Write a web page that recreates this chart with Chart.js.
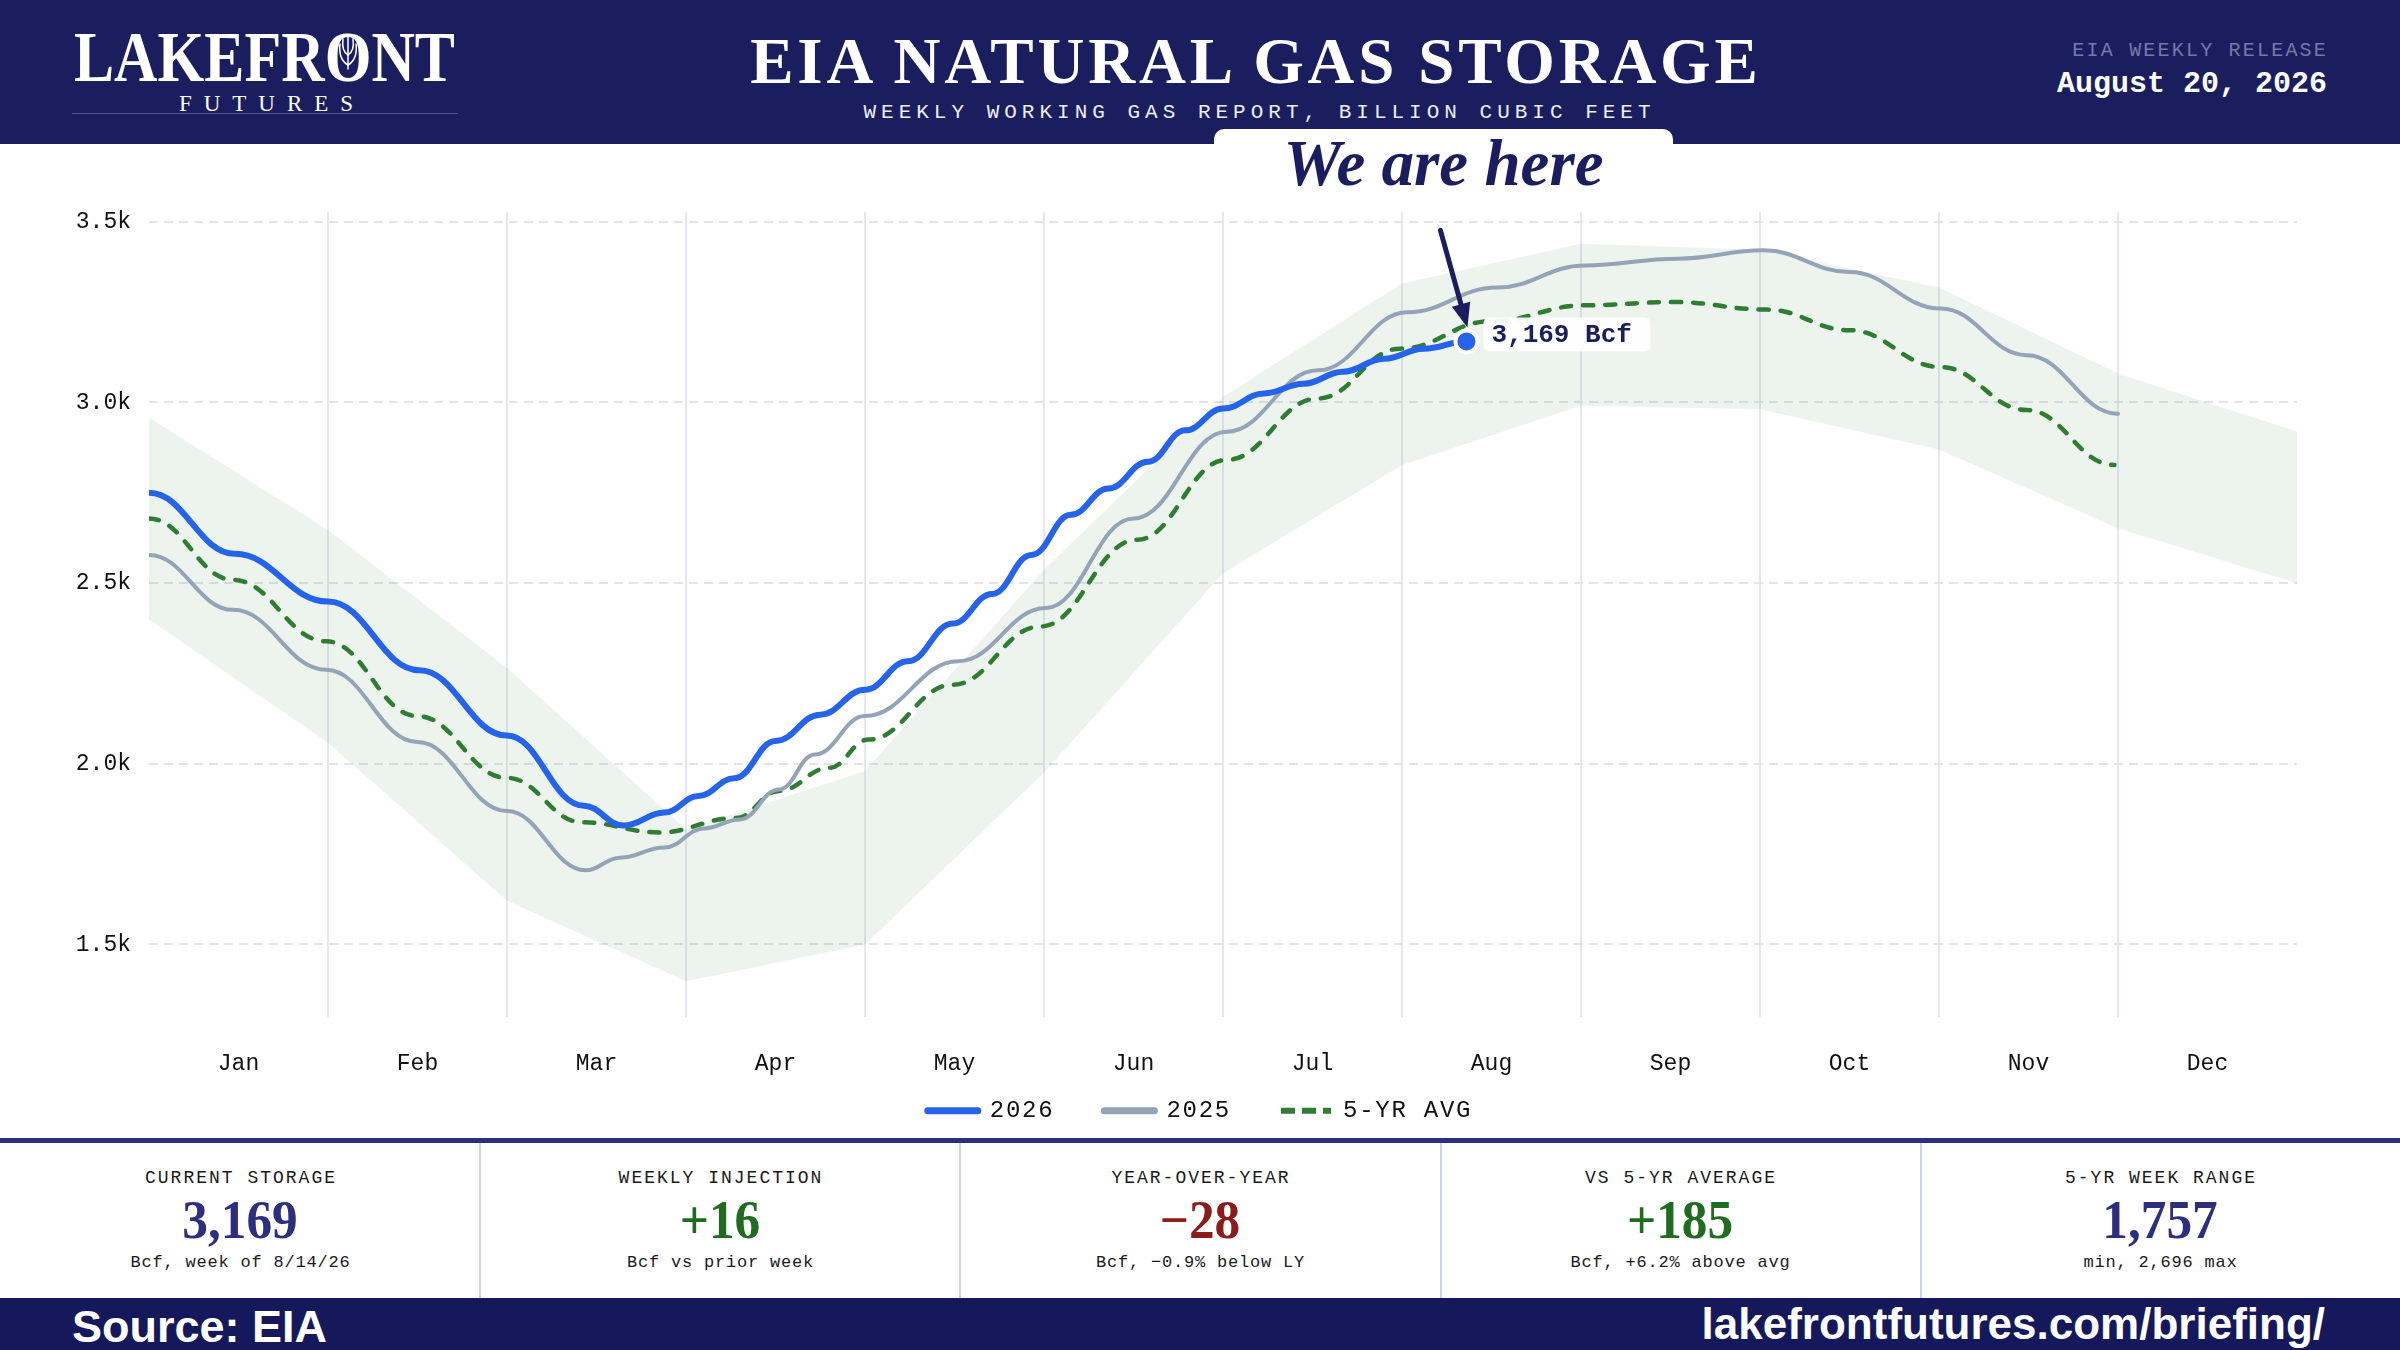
<!DOCTYPE html>
<html>
<head>
<meta charset="utf-8">
<script src="https://cdn.jsdelivr.net/npm/chart.js@4.4.1/dist/chart.umd.min.js"></script>
<style>
html,body{margin:0;padding:0;width:2400px;height:1350px;overflow:hidden;background:#fff;}
body{position:relative;font-family:"Liberation Mono",monospace;}
.abs{position:absolute;line-height:1;white-space:nowrap;}
#hdr{position:absolute;left:0;top:0;width:2400px;height:144px;background:#1b1e5e;}
#tab{position:absolute;left:1214px;top:129px;width:459px;height:72px;background:#fff;border-radius:10px 10px 0 0;z-index:5;}
#here{position:absolute;left:1214px;width:459px;top:130.6px;text-align:center;font:italic bold 65px "Liberation Serif",serif;color:#1b1e5e;line-height:1;z-index:6;}
#chartBox{position:absolute;left:0;top:144px;width:2400px;height:994px;}
#summary{position:absolute;left:0;top:1138px;width:2400px;height:160px;border-top:5.3px solid #2b2e7c;box-sizing:border-box;}
.div{position:absolute;top:1143px;width:1.5px;height:155px;background:#cfd2ec;}
.lab{position:absolute;width:480px;text-align:center;font-size:18px;letter-spacing:2px;padding-left:2px;box-sizing:border-box;color:#1a1a1a;top:1168.9px;line-height:1;white-space:nowrap;}
.val{position:absolute;width:480px;text-align:center;font:bold 54px "Liberation Serif",serif;top:1193.1px;line-height:1;transform:scaleX(0.95);white-space:nowrap;}
.sub{position:absolute;width:480px;text-align:center;font-size:17px;letter-spacing:0.8px;padding-left:0.8px;box-sizing:border-box;color:#1a1a1a;top:1254.3px;line-height:1;white-space:nowrap;}
#foot{position:absolute;left:0;top:1298px;width:2400px;height:52px;background:#15185a;}
</style>
</head>
<body>
<div id="hdr"></div>
<div id="logo" class="abs" style="left:73.5px;top:15.5px;font:bold 72px 'Liberation Serif',serif;color:#fff;transform-origin:0 0;" data-fit="381">LAKEFR<span id="logoO">O</span>NT</div>
<svg id="leaf" class="abs" width="30" height="40" viewBox="-15 -20 30 40" style="overflow:visible">
  <g fill="none" stroke="#ffffff" stroke-width="1.5" stroke-linecap="round">
    <path d="M0,17 L0,-17"/>
    <path d="M0,13 C-7,9 -9,1 -8,-8"/>
    <path d="M0,13 C7,9 9,1 8,-8"/>
    <path d="M0,3 C-5,0 -6,-6 -5,-13"/>
    <path d="M0,3 C5,0 6,-6 5,-13"/>
  </g>
</svg>
<div class="abs" style="left:66px;width:400px;text-align:center;top:90.7px;font:23px 'Liberation Serif',serif;letter-spacing:12px;padding-left:12px;box-sizing:border-box;color:#fff;">FUTURES</div>
<div class="abs" style="left:71.5px;top:112.5px;width:386px;height:1.5px;background:#50559a;"></div>
<div id="title" class="abs" style="left:254px;width:2000px;text-align:center;top:23.9px;font:bold 65px 'Liberation Serif',serif;letter-spacing:3.8px;padding-left:3.8px;box-sizing:border-box;color:#fff;">EIA NATURAL GAS STORAGE</div>
<div class="abs" style="left:257px;width:2000px;text-align:center;top:102.2px;font-size:21px;letter-spacing:5px;padding-left:5px;box-sizing:border-box;color:#eceef8;">WEEKLY WORKING GAS REPORT, BILLION CUBIC FEET</div>
<div class="abs" style="right:72px;top:41.4px;font-size:20px;letter-spacing:2.2px;color:#7479a8;">EIA WEEKLY RELEASE</div>
<div class="abs" style="right:73px;top:68.7px;font-size:30px;font-weight:bold;color:#fff;">August 20, 2026</div>

<div id="tab"></div>
<div id="here">We are here</div>

<div id="chartBox"><canvas id="c"></canvas></div>

<div id="summary"></div>
<div class="div" style="left:479px"></div>
<div class="div" style="left:959px"></div>
<div class="div" style="left:1440px"></div>
<div class="div" style="left:1920px"></div>
<div id="kpis"></div>

<div id="foot"></div>
<div class="abs" style="left:72px;top:1300.5px;font:bold 45px 'Liberation Sans',sans-serif;color:#fff;">Source: EIA</div>
<div class="abs" style="right:75px;top:1299.4px;font:bold 44px 'Liberation Sans',sans-serif;color:#fff;">lakefrontfutures.com/briefing/</div>

<script>
// ---------------- data ----------------
const months = ['Jan','Feb','Mar','Apr','May','Jun','Jul','Aug','Sep','Oct','Nov','Dec'];
const yTicks = [1500, 2000, 2500, 3000, 3500];
const monthEdges = [1,2,3,4,5,6,7,8,9,10,11];

// time in months since Jan 1, storage in Bcf
const at2026  = [0, 0.48, 1.0, 1.51, 2.0, 2.43, 2.65, 2.88, 3.07, 3.27, 3.5, 3.75, 4.0, 4.24, 4.49, 4.71, 4.93, 5.15, 5.36, 5.58, 5.79, 6.0, 6.23, 6.45, 6.67, 6.9, 7.12, 7.36];
const val2026 = [2750, 2581, 2449, 2259, 2078, 1884, 1829, 1865, 1911, 1960, 2063, 2136, 2205, 2284, 2388, 2470, 2578, 2689, 2762, 2836, 2923, 2983, 3025, 3052, 3085, 3121, 3149, 3169];

const at2025  = [0, 0.47, 0.99, 1.5, 2.0, 2.44, 2.63, 2.88, 3.1, 3.3, 3.52, 3.72, 4.0, 4.52, 5.01, 5.5, 6.02, 6.53, 7.03, 7.53, 8.02, 8.54, 9.02, 9.5, 10.01, 10.49, 11.0];
const val2025 = [2578, 2426, 2260, 2060, 1869, 1705, 1740, 1768, 1821, 1846, 1929, 2026, 2132, 2284, 2431, 2679, 2919, 3089, 3250, 3318, 3379, 3398, 3421, 3361, 3260, 3131, 2969];

const atAvg  = [0, 0.47, 0.99, 1.5, 2.0, 2.42, 2.85, 3.28, 3.52, 3.8, 4.02, 4.49, 4.98, 5.52, 6.02, 6.53, 6.99, 7.5, 8.02, 8.52, 9.04, 9.5, 10.01, 10.49, 10.98];
const valAvg = [2679, 2509, 2339, 2132, 1961, 1838, 1810, 1850, 1925, 1989, 2067, 2219, 2380, 2620, 2841, 3011, 3149, 3225, 3269, 3278, 3257, 3200, 3098, 2979, 2827];

const bandAt  = [0, 1, 2, 3, 4, 5, 6, 7, 8, 9, 10, 11, 12];
const bandMax = [2958, 2647, 2265, 1819, 1980, 2537, 3016, 3329, 3439, 3423, 3318, 3080, 2919];
const bandMin = [2399, 2058, 1621, 1398, 1500, 1976, 2527, 2827, 2991, 2981, 2870, 2652, 2500];

const kpiLabels = ['CURRENT STORAGE', 'WEEKLY INJECTION', 'YEAR-OVER-YEAR', 'VS 5-YR AVERAGE', '5-YR WEEK RANGE'];
const kpiValues = ['3,169', '+16', '\u221228', '+185', '1,757'];
const kpiNotes  = ['Bcf, week of 8/14/26', 'Bcf vs prior week', 'Bcf, \u22120.9% below LY', 'Bcf, +6.2% above avg', 'min, 2,696 max'];
const kpiTone   = ['#2b2f7e', '#1f6b1f', '#8b1c1c', '#1f6b1f', '#2b2f7e'];

// ---------------- KPI strip ----------------
const kp = document.getElementById('kpis');
kpiLabels.forEach((l, i) => {
  const x = i * 480;
  kp.insertAdjacentHTML('beforeend',
    `<div class="lab" style="left:${x}px">${l}</div>` +
    `<div class="val" style="left:${x}px;color:${kpiTone[i]}">${kpiValues[i]}</div>` +
    `<div class="sub" style="left:${x}px">${kpiNotes[i]}</div>`);
});

// fit logo width and place leaf inside the O
document.querySelectorAll('[data-fit]').forEach(el => {
  const w = el.getBoundingClientRect().width;
  el.style.transform = `scaleX(${parseFloat(el.dataset.fit) / w})`;
});
(function () {
  const o = document.getElementById('logoO').getBoundingClientRect();
  const logo = document.getElementById('logo');
  const top = parseFloat(logo.style.top);
  const cx = o.left + o.width / 2;
  const cy = top + 0.8375 * 72 - 23.6;
  const lf = document.getElementById('leaf');
  lf.style.left = (cx - 15) + 'px';
  lf.style.top = (cy - 20) + 'px';
})();

// ---------------- chart ----------------
const BLUE = '#2563eb', GREY = '#94a3b8', GREEN = '#2e7d32', BAND = 'rgba(46,125,50,0.085)', NAVY = '#1b1e5e';
const pts = (xs, ys) => xs.map((x, i) => ({ x, y: ys[i] }));
const LEG_SHIFT = 28.6;

Chart.defaults.font.family = "'Liberation Mono', monospace";
Chart.defaults.color = '#111';

// flat-tangent curve through each reading
const bumpPlugin = {
  id: 'bumpCurve',
  beforeDatasetsDraw(chart) {
    chart.data.datasets.forEach((ds, i) => {
      if (!ds.bumpCurve) return;
      const meta = chart.getDatasetMeta(i);
      meta.dataset.updateControlPoints(chart.chartArea, meta.indexAxis);
      const p = meta.data;
      for (let k = 0; k < p.length; k++) {
        const a = p[k], pr = p[k - 1], nx = p[k + 1];
        a.cp1x = pr ? a.x - (a.x - pr.x) * 0.42 : a.x;
        a.cp1y = a.y;
        a.cp2x = nx ? a.x + (nx.x - a.x) * 0.42 : a.x;
        a.cp2y = a.y;
      }
    });
  }
};

// letter-spaced legend, pulled up closer to the month labels
const legendTweak = {
  id: 'legendTweak',
  afterInit(chart) {
    const lg = chart.legend;
    if (!lg) return;
    const fit0 = lg.fit, draw0 = lg.draw;
    lg.fit = function () {
      const c = this.ctx, old = c.letterSpacing;
      c.letterSpacing = '1.75px';
      fit0.call(this);
      c.letterSpacing = old;
      this.height -= LEG_SHIFT;
    };
    lg.draw = function () {
      const c = this.ctx;
      const t = this.top, b = this.bottom, h = this.height;
      this.top = t - LEG_SHIFT;
      this.height = h + LEG_SHIFT;
      this.bottom = this.top + this.height;
      c.save();
      c.letterSpacing = '1.75px';
      draw0.call(this);
      c.restore();
      this.top = t; this.bottom = b; this.height = h;
    };
  }
};

const herePlugin = {
  id: 'here',
  afterDatasetsDraw(chart) {
    const meta = chart.getDatasetMeta(0);
    const p = meta.data[meta.data.length - 1];
    const ctx = chart.ctx;
    const x = p.x, y = p.y;
    ctx.save();
    ctx.fillStyle = 'rgba(255,255,255,0.93)';
    ctx.beginPath();
    ctx.roundRect(x + 17, y - 24, 167, 34, 6);
    ctx.fill();
    ctx.fillStyle = NAVY;
    ctx.font = "bold 26px 'Liberation Mono', monospace";
    ctx.textAlign = 'left';
    ctx.textBaseline = 'middle';
    ctx.fillText(val2026[val2026.length - 1].toLocaleString('en-US') + ' Bcf', x + 25, y - 6);
    const tx = x + 1, ty = y - 14, sx = x - 26, sy = y - 111;
    const dx = tx - sx, dy = ty - sy, L = Math.hypot(dx, dy), ux = dx / L, uy = dy / L;
    const hl = 24, hw = 9.5;
    const bxc = tx - ux * hl, byc = ty - uy * hl;
    ctx.strokeStyle = NAVY; ctx.lineWidth = 5; ctx.lineCap = 'round';
    ctx.beginPath(); ctx.moveTo(sx, sy); ctx.lineTo(bxc + ux * 4, byc + uy * 4); ctx.stroke();
    ctx.fillStyle = NAVY;
    ctx.beginPath();
    ctx.moveTo(tx, ty);
    ctx.lineTo(bxc - uy * hw, byc + ux * hw);
    ctx.lineTo(bxc + uy * hw, byc - ux * hw);
    ctx.closePath(); ctx.fill();
    ctx.restore();
  }
};

new Chart(document.getElementById('c'), {
  type: 'line',
  data: {
    datasets: [
      { label: '2026', data: pts(at2026, val2026), borderColor: BLUE, backgroundColor: BLUE, borderWidth: 6,
        tension: 0.4, bumpCurve: true, fill: false, borderCapStyle: 'round', borderJoinStyle: 'round',
        pointRadius: val2026.map((_, i) => i === val2026.length - 1 ? 11 : 0),
        pointBackgroundColor: BLUE, pointBorderColor: '#ffffff', pointBorderWidth: 4 },
      { label: '2025', data: pts(at2025, val2025), borderColor: GREY, backgroundColor: GREY, borderWidth: 4,
        tension: 0.4, bumpCurve: true, fill: false, pointRadius: 0, borderCapStyle: 'round' },
      { label: '5-YR AVG', data: pts(atAvg, valAvg), borderColor: GREEN, backgroundColor: GREEN, borderWidth: 4.5,
        borderDash: [10, 12], borderCapStyle: 'round', tension: 0.4, bumpCurve: true, fill: false, pointRadius: 0 },
      { label: 'range max', data: pts(bandAt, bandMax), borderColor: 'transparent', borderWidth: 0, pointRadius: 0,
        tension: 0, fill: '+1', backgroundColor: BAND },
      { label: 'range min', data: pts(bandAt, bandMin), borderColor: 'transparent', borderWidth: 0, pointRadius: 0,
        tension: 0, fill: false }
    ]
  },
  options: {
    responsive: true, maintainAspectRatio: false, animation: false, events: [],
    layout: { padding: { top: 67.7, left: 40, right: 40, bottom: 5.3 } },
    scales: {
      x: { type: 'linear', min: 0, max: 12,
        afterBuildTicks: s => { s.ticks = monthEdges.map(v => ({ value: v })); },
        grid: { color: '#e6e8f1', lineWidth: 2, drawTicks: false },
        border: { display: false }, ticks: { display: false } },
      xm: { type: 'linear', position: 'bottom', min: 0, max: 12,
        afterBuildTicks: s => { s.ticks = months.map((m, i) => ({ value: i + 0.5 })); },
        afterFit: s => { s.height = 60.6; },
        grid: { display: false, drawTicks: false }, border: { display: false },
        ticks: { padding: 33, color: '#111', font: { size: 23 }, autoSkip: false, maxRotation: 0, minRotation: 0,
          callback: v => months[Math.floor(v)] } },
      y: { min: 1300, max: 3528,
        afterBuildTicks: s => { s.ticks = yTicks.map(v => ({ value: v })); },
        afterFit: s => { s.width = 109; },
        grid: { color: '#e1e3f0', lineWidth: 2, drawTicks: false },
        border: { display: false, dash: [9, 6] },
        ticks: { padding: 18, color: '#111', font: { size: 23 }, callback: v => (v / 1000).toFixed(1) + 'k' } },
      yr: { type: 'linear', position: 'right', display: true,
        afterFit: s => { s.width = 63; },
        grid: { display: false, drawTicks: false }, border: { display: false }, ticks: { display: false } }
    },
    plugins: {
      tooltip: { enabled: false },
      legend: { position: 'bottom', align: 'center',
        labels: { usePointStyle: true, pointStyleWidth: 50, padding: 50, color: '#111', font: { size: 24 },
          generateLabels: chart => chart.data.datasets.slice(0, 3).map((ds, i) => ({
            text: ds.label, datasetIndex: i, pointStyle: 'line', lineWidth: i === 2 ? 6 : 7,
            strokeStyle: ds.borderColor, fillStyle: ds.borderColor, lineCap: i === 2 ? 'butt' : 'round',
            lineDash: i === 2 ? [14, 7] : [], fontColor: '#111', hidden: false })) } }
    }
  },
  plugins: [bumpPlugin, legendTweak, herePlugin]
});
</script>
</body>
</html>
